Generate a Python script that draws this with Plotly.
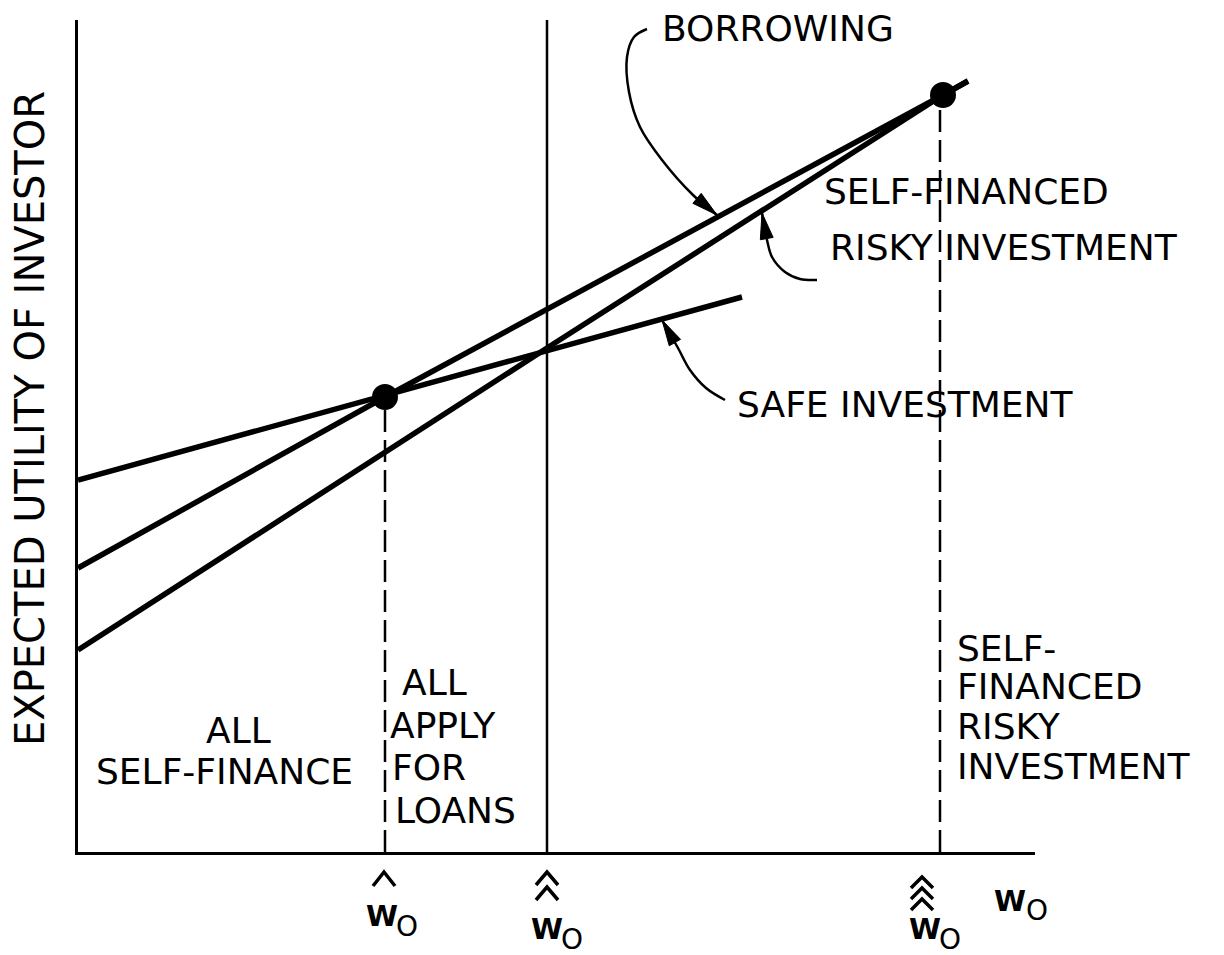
import numpy as np
import plotly.graph_objects as go

# ---- geometry of the schematic (abstract units: x = initial wealth w0, y = expected utility)
X_MAX = 957
Y_MAX = 832

# wealth thresholds: w0-hat, w0-double-hat, w0-triple-hat
W_THRESH = [307, 469, 862]
THRESH_TOP = [455, Y_MAX, 757]

# utility lines
SAFE_X = [0, 664]
SAFE_Y = [372, 555]
BORROW_X = [0, 307, 865, 890]
BORROW_Y = [284, 455, 757, 771]
RISKY_X = [0, 469, 865, 890]
RISKY_Y = [202, 504, 757, 771]

# switching points (dots)
DOT_X = [307, 865]
DOT_Y = [455, 757]

# leader curves for the labels (curve points, then arrow tip)
BORROW_LEAD_X = [569, 556, 549, 551, 562, 584, 615]
BORROW_LEAD_Y = [823, 815, 795, 760, 725, 692, 657]
BORROW_TIP = (639, 637)
RISKY_LEAD_X = [739, 722, 707, 694, 689]
RISKY_LEAD_Y = [572, 573, 580, 595, 612]
RISKY_TIP = (684, 639)
SAFE_LEAD_X = [647, 628, 612, 600]
SAFE_LEAD_Y = [452, 464, 482, 504]
SAFE_TIP = (584, 532)

# text labels: (text, x, y, xanchor)
LABELS = [
    ("BORROWING", 582, 824, "left"),
    ("SELF-FINANCED", 744, 661, "left"),
    ("RISKY INVESTMENT", 750, 605, "left"),
    ("SAFE INVESTMENT", 657, 448, "left"),
    ("ALL", 160, 122, "center"),
    ("SELF-FINANCE", 146, 81, "center"),
    ("ALL", 322, 170, "left"),
    ("APPLY", 310, 127, "left"),
    ("FOR", 312, 85, "left"),
    ("LOANS", 315, 42, "left"),
    ("SELF-", 877, 204, "left"),
    ("FINANCED", 877, 166, "left"),
    ("RISKY", 877, 126, "left"),
    ("INVESTMENT", 877, 86, "left"),
]
Y_TITLE = "EXPECTED UTILITY OF INVESTOR"

# axis-label marks: (x of W, y of W, number of hats, hat x, hat top y, hat spacing, hat height)
TICK_LABELS = [
    (304, -64, 1, 306, -20, 14, 14),
    (469, -77, 2, 469, -20, 15, 13),
    (847, -77, 3, 844, -25, 11, 11),
]
AXIS_NAME = (932, -49)

FONT = "DejaVu Sans"
BLACK = "black"

fig = go.Figure()

LW = 5.5
fig.add_trace(go.Scatter(x=SAFE_X, y=SAFE_Y, mode="lines", line=dict(color=BLACK, width=LW), hoverinfo="skip"))
fig.add_trace(go.Scatter(x=BORROW_X, y=BORROW_Y, mode="lines", line=dict(color=BLACK, width=LW), hoverinfo="skip"))
fig.add_trace(go.Scatter(x=RISKY_X, y=RISKY_Y, mode="lines", line=dict(color=BLACK, width=LW), hoverinfo="skip"))

# threshold verticals
for i, (xv, top) in enumerate(zip(W_THRESH, THRESH_TOP)):
    dash = "solid" if i == 1 else "22px,8px"
    fig.add_trace(go.Scatter(x=[xv, xv], y=[0, top], mode="lines",
                             line=dict(color=BLACK, width=2.5, dash=dash), hoverinfo="skip"))

fig.add_trace(go.Scatter(x=DOT_X, y=DOT_Y, mode="markers",
                         marker=dict(color=BLACK, size=26), hoverinfo="skip"))


def leader(xs, ys, tip):
    fig.add_trace(go.Scatter(x=xs + [tip[0]], y=ys + [tip[1]], mode="lines",
                             line=dict(color=BLACK, width=2.5, shape="spline"), hoverinfo="skip"))
    tx, ty = tip
    d = np.array([tx - xs[-1], ty - ys[-1]], dtype=float)
    d /= np.linalg.norm(d)
    n = np.array([-d[1], d[0]])
    L, w = 26, 6.5
    b = np.array([tx, ty]) - L * d
    p1 = b + w * n
    p2 = b - w * n
    fig.add_trace(go.Scatter(x=[tx, p1[0], p2[0], tx], y=[ty, p1[1], p2[1], ty], mode="lines",
                             fill="toself", fillcolor=BLACK, line=dict(color=BLACK, width=1),
                             hoverinfo="skip"))


leader(BORROW_LEAD_X, BORROW_LEAD_Y, BORROW_TIP)
leader(RISKY_LEAD_X, RISKY_LEAD_Y, RISKY_TIP)
leader(SAFE_LEAD_X, SAFE_LEAD_Y, SAFE_TIP)


def px(xd):
    return xd / X_MAX


def py(yd):
    return yd / Y_MAX


annotations = []
for text, x, y, xa in LABELS:
    annotations.append(dict(text=text, x=x, y=y, xref="x", yref="y", xanchor=xa, yanchor="middle",
                            showarrow=False, font=dict(family=FONT, size=36, color=BLACK)))

annotations.append(dict(text=Y_TITLE, x=px(-48), y=py(433), xref="paper", yref="paper", textangle=-90,
                        xanchor="center", yanchor="middle", showarrow=False,
                        font=dict(family=FONT, size=40, color=BLACK)))

shapes = []


def w0_label(wx, wy, dx=25, dy=10):
    annotations.append(dict(text="<b>W</b>", x=px(wx), y=py(wy), xref="paper", yref="paper",
                            xanchor="center", yanchor="middle", showarrow=False,
                            font=dict(family=FONT, size=29, color=BLACK)))
    annotations.append(dict(text="O", x=px(wx + dx), y=py(wy - dy), xref="paper", yref="paper",
                            xanchor="center", yanchor="middle", showarrow=False,
                            font=dict(family=FONT, size=28, color=BLACK)))


for wx, wy, nh, hx, htop, hsp, hh in TICK_LABELS:
    for k in range(nh):
        ya = htop - k * hsp
        path = f"M {px(hx - 11)} {py(ya - hh)} L {px(hx)} {py(ya)} L {px(hx + 11)} {py(ya - hh)}"
        shapes.append(dict(type="path", path=path, xref="paper", yref="paper",
                           line=dict(color=BLACK, width=3.5)))
    w0_label(wx, wy)

w0_label(AXIS_NAME[0], AXIS_NAME[1], dx=27)

axis_common = dict(showline=True, linecolor=BLACK, linewidth=3, showgrid=False, zeroline=False,
                   showticklabels=False, ticks="", fixedrange=True)

# page body adds an 8px offset, so margins are reduced accordingly
fig.update_layout(
    width=1224, height=955,
    margin=dict(l=70, r=197, t=12, b=111, pad=0),
    paper_bgcolor="white", plot_bgcolor="white",
    showlegend=False,
    xaxis=dict(range=[0, X_MAX], **axis_common),
    yaxis=dict(range=[0, Y_MAX], **axis_common),
    annotations=annotations,
    shapes=shapes,
)

fig.write_html("out.html")
